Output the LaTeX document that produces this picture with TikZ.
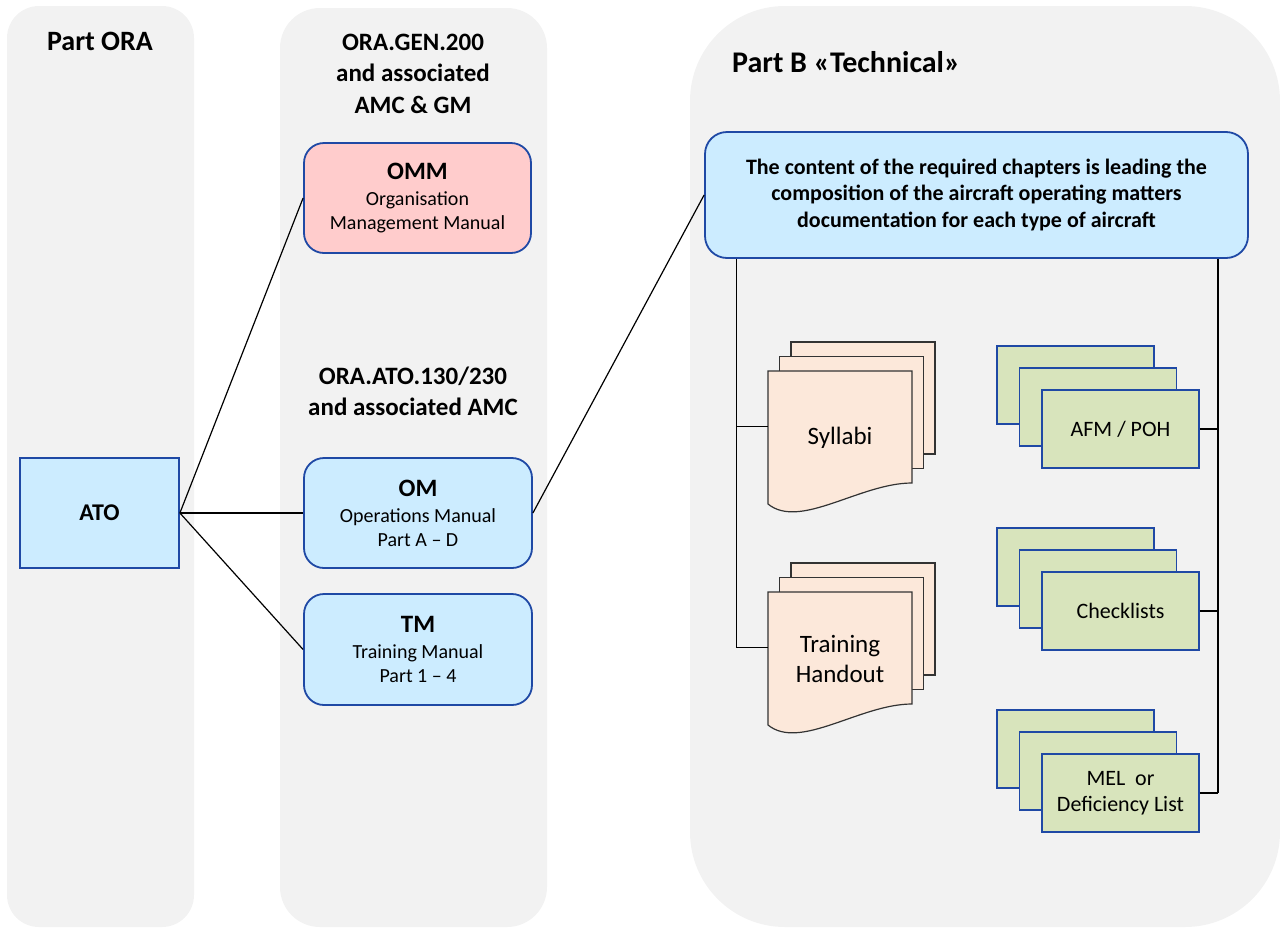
\documentclass[tikz,border=0pt]{standalone}
\usepackage{fontspec}
\setmainfont{Carlito}
\definecolor{panelgray}{HTML}{F2F2F2}
\definecolor{boxblue}{RGB}{31,73,165}
\definecolor{lightblue}{HTML}{CCECFF}
\definecolor{pinkfill}{HTML}{FFCCCC}
\definecolor{peach}{HTML}{FCE8DA}
\definecolor{olivefill}{HTML}{D8E4BC}
\tikzset{
	panel/.style={fill=panelgray},
	title/.style={font=\fontsize{25}{31.5}\selectfont\bfseries,align=center,inner sep=0pt},
	box/.style={draw=boxblue,line width=1.8pt,fill=lightblue,align=center,inner sep=0pt,minimum width=228pt,minimum height=110pt,font=\fontsize{20}{24}\selectfont},
	rbox/.style={box,rounded corners=20pt},
	link/.style={line width=1.2pt},
	docpage/.style={draw=black!80,fill=peach,line width=1.2pt},
	doctext/.style={align=center,inner sep=0pt,minimum width=144pt,minimum height=133pt,font=\fontsize{25}{30}\selectfont},
	stackbox/.style={draw=boxblue,fill=olivefill,line width=1.5pt}
}
\begin{document}
\begin{tikzpicture}[x=1pt,y=-1pt]
	\useasboundingbox (0,0) rectangle (1280,927);
	\fill[panel,rounded corners=32pt] (7,6) rectangle (194,927);
	\fill[panel,rounded corners=40pt] (280,8) rectangle (547,927);
	\fill[panel,rounded corners=95pt] (690,6) rectangle (1280,927);

	\node[title,font=\fontsize{28}{34}\selectfont\bfseries] (partora) at (100,41) {Part ORA};
	\node[title] (oragen) at (413,73.5) {ORA.GEN.200\\and associated\\AMC \& GM};
	\node[title] (oraato) at (413,391.5) {ORA.ATO.130/230\\and associated AMC};
	\node[title,font=\fontsize{30}{34}\selectfont\bfseries,anchor=west] (partb) at (732,62) {Part B «Technical»};

	\node[box,minimum width=159pt,font=\fontsize{24}{29}\selectfont\bfseries] (ato) at (99.5,513) {ATO};
	\node[rbox,fill=pinkfill,minimum width=227pt] (omm) at (417.5,198) {{\fontsize{25}{24}\selectfont\bfseries OMM}\\[2pt]Organisation\\Management Manual};
	\node[rbox] (om) at (418,513) {{\fontsize{25}{24}\selectfont\bfseries OM}\\[2pt]Operations Manual\\Part A – D};
	\node[rbox,minimum height=111pt] (tm) at (418,649.5) {{\fontsize{25}{24}\selectfont\bfseries TM}\\[2pt]Training Manual\\Part 1 – 4};
	\node[rbox,rounded corners=22pt,minimum width=543pt,minimum height=126pt,font=\fontsize{22}{26.5}\selectfont\bfseries] (content) at (976.5,195) {The content of the required chapters is leading the\\composition of the aircraft operating matters\\documentation for each type of aircraft};

	\draw[link] (ato.east) -- (omm.west);
	\draw[link] (ato.east) -- (om.west);
	\draw[link] (ato.east) -- (tm.west);
	\draw[link] (om.east) -- (content.west);

	\coordinate (trunkl) at ([xshift=32pt]content.south west);
	\coordinate (trunkr) at ([xshift=-31pt]content.south east);

	\foreach \n/\y/\txt in {syllabi/371/Syllabi,handout/592/{Training\\Handout}} {
		\draw[docpage] (791,\y-29) rectangle ++(144,112);
		\draw[docpage] (779.5,\y-14.5) rectangle ++(144,112);
		\draw[docpage] (768,\y) -- (912,\y) -- (912,\y+112) .. controls (860,\y+112) and (800,\y+159) .. (768,\y+133) -- cycle;
		\node[doctext] (\n) at (840,\y+66.5) {\txt};
		\draw[link] ([yshift=11pt]\n.west) -- ([yshift=11pt]\n.west -| trunkl);
	}
	\draw[link] (trunkl) -- ([yshift=11pt]handout.west -| trunkl);

	\foreach \n/\y/\txt in {afm/390/{AFM / POH},checklists/572/Checklists,mel/754/{MEL~~or\\Deficiency List}} {
		\draw[stackbox] (997,\y-44) rectangle ++(157,78);
		\draw[stackbox] (1019.5,\y-22) rectangle ++(157,78);
		\node[stackbox,align=center,inner sep=0pt,minimum width=157pt,minimum height=78pt,font=\fontsize{22}{26}\selectfont] (\n) at (1120.5,\y+39) {\txt};
		\draw[link] (\n.east) -- (\n.east -| trunkr);
	}
	\draw[link] (trunkr) -- (mel.east -| trunkr);
\end{tikzpicture}
\end{document}
